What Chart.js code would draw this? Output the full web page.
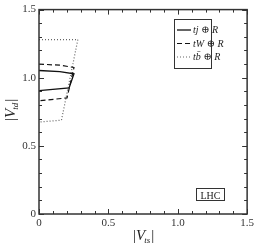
<!DOCTYPE html>
<html>
<head>
<meta charset="utf-8">
<script src="https://cdn.jsdelivr.net/npm/chart.js@4/dist/chart.umd.min.js"></script>
<style>
  html, body { margin: 0; padding: 0; background: #fff; }
  #wrap { width: 257px; height: 245px; }
</style>
</head>
<body>
<div id="wrap"><canvas id="myChart" width="257" height="245"></canvas></div>
<script>
// values
const tjX = [0, 0.15, 0.252, 0.217, 0];
const tjY = [1.053, 1.045, 1.029, 0.926, 0.905];
const tWX = [0, 0.15, 0.252, 0.202, 0];
const tWY = [1.100, 1.092, 1.075, 0.852, 0.831];
const tbX = [0, 0.28, 0.162, 0];
const tbY = [1.28, 1.28, 0.689, 0.675];
const seriesLabels = ['tj', 'tW', 'tb\u0304'];
const tickLabels = ['0', '0.5', '1.0', '1.5'];

const serif = '"Liberation Serif", "DejaVu Serif", serif';

function pts(xs, ys) {
    return xs.map((x, i) => ({ x: x, y: ys[i] }));
}

function labelFor(v) {
    const i = Math.round(v * 10);
    if (i % 5 !== 0) return '';
    return tickLabels[i / 5];
}

// ticks pointing inside the frame, on all four sides
const innerTicks = {
    id: 'innerTicks',
    afterDraw(chart) {
        const ctx = chart.ctx;
        const a = chart.chartArea;
        const xs = chart.scales.x, ys = chart.scales.y;
        ctx.save();
        ctx.strokeStyle = '#333';
        ctx.lineWidth = 1;
        for (let i = 0; i <= 15; i++) {
            const v = i / 10;
            const len = (i % 5 === 0) ? 5 : 3;
            const px = Math.round(xs.getPixelForValue(v)) + 0.5;
            const py = Math.round(ys.getPixelForValue(v)) + 0.5;
            ctx.beginPath();
            ctx.moveTo(px, a.bottom); ctx.lineTo(px, a.bottom - len);
            ctx.moveTo(px, a.top); ctx.lineTo(px, a.top + len);
            ctx.moveTo(a.left, py); ctx.lineTo(a.left + len, py);
            ctx.moveTo(a.right, py); ctx.lineTo(a.right - len, py);
            ctx.stroke();
        }
        ctx.lineWidth = 1.5;
        ctx.strokeRect(a.left, a.top, a.right - a.left, a.bottom - a.top);
        ctx.restore();
    }
};

// axis titles, legend box and the LHC label
const annotations = {
    id: 'annotations',
    afterDraw(chart) {
        const ctx = chart.ctx;
        ctx.save();
        ctx.fillStyle = '#222';
        ctx.textBaseline = 'alphabetic';

        // |V_sub| title
        function absTitle(x, y, sub) {
            ctx.font = '15px ' + serif;
            ctx.fillText('|', x, y);
            let w = ctx.measureText('|').width;
            ctx.font = 'italic 15px ' + serif;
            ctx.fillText('V', x + w, y);
            w += ctx.measureText('V').width;
            ctx.font = 'italic 9px ' + serif;
            ctx.fillText(sub, x + w - 1, y + 3);
            w += ctx.measureText(sub).width;
            ctx.font = '15px ' + serif;
            ctx.fillText('|', x + w, y);
        }
        absTitle(133, 240, 'ts');
        ctx.save();
        ctx.translate(15, 121);
        ctx.rotate(-Math.PI / 2);
        absTitle(0, 0, 'td');
        ctx.restore();

        // legend
        const lx = 174, ly = 19, lw = 37, lh = 49;
        ctx.strokeStyle = '#333';
        ctx.lineWidth = 1;
        ctx.strokeRect(lx + 0.5, ly + 0.5, lw, lh);
        chart.data.datasets.forEach((ds, i) => {
            const y = 30 + i * 13.5;
            ctx.save();
            ctx.strokeStyle = ds.borderColor;
            ctx.lineWidth = ds.borderWidth;
            ctx.setLineDash(ds.borderDash || []);
            ctx.beginPath();
            ctx.moveTo(177, y); ctx.lineTo(191, y);
            ctx.stroke();
            ctx.restore();
            ctx.font = 'italic 10px ' + serif;
            ctx.fillText(seriesLabels[i], 193, y + 3);
            let w = ctx.measureText(seriesLabels[i]).width;
            ctx.font = '10px ' + serif;
            ctx.fillText(' \u2295 ', 193 + w, y + 3);
            w += ctx.measureText(' \u2295 ').width;
            ctx.font = 'italic 10px ' + serif;
            ctx.fillText('R', 193 + w, y + 3);
        });

        // LHC box
        ctx.strokeRect(196.5, 188.5, 28, 12);
        ctx.font = '10px ' + serif;
        ctx.textAlign = 'center';
        ctx.fillText('LHC', 210.5, 198.5);
        ctx.restore();
    }
};

const ctx = document.getElementById('myChart').getContext('2d');
const myChart = new Chart(ctx, {
    type: 'scatter',
    data: {
        datasets: [
            {
                label: 'tj',
                data: pts(tjX, tjY),
                showLine: true,
                borderColor: '#111',
                borderWidth: 1.3,
                pointRadius: 0,
                fill: false
            },
            {
                label: 'tW',
                data: pts(tWX, tWY),
                showLine: true,
                borderColor: '#111',
                borderWidth: 1.2,
                borderDash: [5, 3],
                pointRadius: 0,
                fill: false
            },
            {
                label: 'tb',
                data: pts(tbX, tbY),
                showLine: true,
                borderColor: '#666',
                borderWidth: 1.2,
                borderDash: [1, 2],
                pointRadius: 0,
                fill: false
            }
        ]
    },
    options: {
        responsive: false,
        animation: false,
        layout: { padding: { top: 5, right: 8, left: 0, bottom: 0 } },
        scales: {
            x: {
                min: 0, max: 1.5,
                grid: { display: false, drawTicks: false, tickLength: 0 },
                border: { display: false },
                ticks: {
                    stepSize: 0.1,
                    autoSkip: false,
                    maxRotation: 0,
                    padding: 3,
                    color: '#333',
                    font: { family: serif, size: 11 },
                    callback: v => labelFor(v)
                },
                afterFit: s => { s.height = 31; }
            },
            y: {
                min: 0, max: 1.5,
                grid: { display: false, drawTicks: false, tickLength: 0 },
                border: { display: false },
                ticks: {
                    stepSize: 0.1,
                    autoSkip: false,
                    padding: 3,
                    color: '#333',
                    font: { family: serif, size: 11 },
                    callback: v => labelFor(v)
                },
                afterFit: s => { s.width = 39; }
            }
        },
        plugins: {
            legend: { display: false },
            tooltip: { enabled: false }
        }
    },
    plugins: [innerTicks, annotations]
});
</script>
</body>
</html>
